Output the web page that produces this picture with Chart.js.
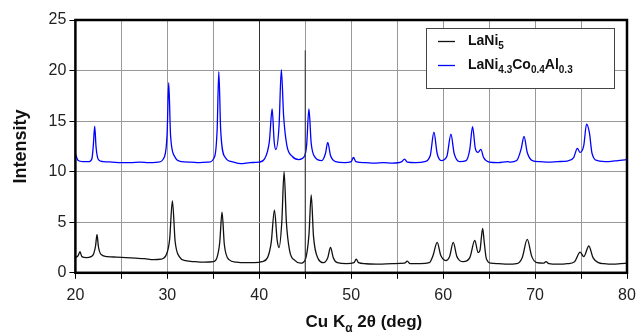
<!DOCTYPE html>
<html>
<head>
<meta charset="utf-8">
<script src="https://cdn.jsdelivr.net/npm/chart.js@4/dist/chart.umd.min.js"></script>
<style>
  html, body { margin: 0; padding: 0; background: #fff; }
  #wrap { width: 639px; height: 336px; }
</style>
</head>
<body>
<div id="wrap"><canvas id="Chart"></canvas></div>
<script>
// LaNi5 pattern (2theta, intensity)
const lani5X = [20.0,20.3,20.5,20.7,21.2,21.7,22.0,22.2,22.35,22.5,22.8,23.5,24.5,25.5,26.5,27.5,28.5,29.3,29.9,30.25,30.55,30.85,31.3,32.0,33.0,34.0,35.0,35.4,35.7,35.95,36.2,36.7,37.5,38.5,39.5,40.3,40.9,41.3,41.65,41.95,42.15,42.45,42.7,42.95,43.3,43.9,44.5,45.0,45.4,45.65,45.9,46.4,47.0,47.45,47.75,48.05,48.5,49.5,50.3,50.55,50.8,51.5,53.0,54.5,55.8,56.1,56.4,57.5,58.5,58.9,59.35,59.75,60.3,60.7,61.1,61.5,62.2,62.9,63.45,63.8,64.0,64.3,64.45,64.7,65.2,66.0,67.0,68.0,68.6,69.15,69.65,70.2,70.9,71.2,71.5,72.5,73.5,74.3,74.9,75.3,75.85,76.3,76.9,77.5,78.5,79.3,80.0];
const lani5Y = [1.5,1.7,2.1,1.6,1.5,1.6,1.9,2.7,3.8,2.6,1.8,1.6,1.55,1.5,1.45,1.4,1.3,1.35,1.8,3.3,7.1,3.1,1.6,1.2,1.1,1.05,1.1,1.5,3.0,6.0,2.8,1.3,1.05,1.0,1.0,1.1,1.5,3.0,6.2,3.2,2.5,5.0,10.0,5.0,2.2,1.2,0.95,1.3,3.7,7.7,3.6,1.4,1.0,1.5,2.5,1.5,1.0,0.9,1.0,1.35,1.0,0.9,0.85,0.9,0.95,1.15,0.9,0.9,1.0,1.7,3.0,1.7,1.2,1.6,3.0,1.6,1.1,1.5,3.2,2.0,2.2,4.4,3.2,1.4,0.95,0.9,0.85,0.9,1.5,3.3,1.6,1.0,0.95,1.1,0.9,0.85,0.9,1.1,2.05,1.6,2.65,1.5,1.0,0.9,0.85,0.9,0.95];

// LaNi4.3Co0.4Al0.3 pattern (offset upwards in the figure)
const alloyX = [20.0,20.1,20.3,20.8,21.5,21.8,21.95,22.1,22.25,22.5,23.0,24.0,25.0,26.0,27.0,28.0,29.0,29.7,29.98,30.15,30.35,30.8,31.5,32.5,33.5,34.5,35.15,35.42,35.6,35.8,36.3,37.0,38.0,39.0,40.0,40.6,41.1,41.4,41.62,41.8,42.15,42.4,42.65,43.0,43.6,44.3,44.9,45.15,45.4,45.65,46.1,46.8,47.2,47.45,47.75,48.3,49.3,50.0,50.25,50.5,51.5,52.5,53.5,54.5,55.5,55.8,56.1,57.0,58.0,58.6,59.0,59.35,59.8,60.4,60.85,61.2,61.8,62.5,62.9,63.2,63.5,63.8,64.1,64.4,65.0,66.0,67.0,67.3,68.0,68.5,68.8,69.15,69.7,70.5,71.5,72.5,73.5,74.2,74.6,74.9,75.3,75.6,75.9,76.2,76.8,78.0,79.0,80.0];
const alloyY = [11.8,11.5,11.1,11.0,11.0,11.3,12.6,14.5,12.4,11.2,11.0,10.95,10.9,10.9,10.95,10.9,10.95,11.5,13.8,18.8,13.6,11.5,11.0,10.95,10.9,10.95,11.5,14.2,19.9,14.2,11.4,11.0,10.8,10.9,10.95,11.3,13.0,16.2,13.0,12.2,14.5,20.1,15.5,12.6,11.5,11.2,11.5,12.6,16.2,12.8,11.4,11.1,11.8,12.9,11.6,11.0,10.9,11.0,11.4,11.0,10.9,10.85,10.9,10.85,11.0,11.25,10.95,10.9,11.0,11.6,13.9,11.8,11.1,11.5,13.7,11.8,11.0,11.1,12.2,14.45,12.3,11.9,12.2,11.4,10.95,10.9,11.0,10.95,11.1,12.3,13.5,11.9,11.1,11.0,10.95,11.0,11.05,11.4,12.3,11.9,12.6,14.7,13.9,11.8,11.1,11.0,11.1,11.2];

// dark vertical marker line at 45 deg seen in the figure
const guideX = [45, 45];
const guideY = [0, 22];

// axis ticks
const xTicks = [20, 30, 40, 50, 60, 70, 80];
const yTicks = [0, 5, 10, 15, 20, 25];

// labels with subscripts: [text, isSubscript]
const lani5Label = [['LaNi', 0], ['5', 1]];
const alloyLabel = [['LaNi', 0], ['4.3', 1], ['Co', 0], ['0.4', 1], ['Al', 0], ['0.3', 1]];
const xTitle = [['Cu K', 0], ['\u03B1', 1], [' 2\u03B8 (deg)', 0]];
const yTitle = 'Intensity';

const FONT = '"Liberation Sans", Arial, sans-serif';

function toPoints(xs, ys) {
  return xs.map(function (x, i) { return { x: x, y: ys[i] }; });
}

function richWidth(ctx, parts, size) {
  let w = 0;
  parts.forEach(function (p) {
    ctx.font = 'bold ' + (p[1] ? Math.round(size * 0.68) : size) + 'px ' + FONT;
    w += ctx.measureText(p[0]).width;
  });
  return w;
}

function drawRich(ctx, parts, x, y, size) {
  parts.forEach(function (p) {
    ctx.font = 'bold ' + (p[1] ? Math.round(size * 0.68) : size) + 'px ' + FONT;
    ctx.fillText(p[0], x, p[1] ? y + size * 0.32 : y);
    x += ctx.measureText(p[0]).width;
  });
}

const decor = {
  id: 'decor',
  afterDatasetsDraw(chart) {
    const ctx = chart.ctx;
    const a = chart.chartArea;
    ctx.save();
    // plot frame
    ctx.lineWidth = 2.5;
    ctx.strokeStyle = '#000';
    ctx.strokeRect(a.left, a.top, a.right - a.left, a.bottom - a.top);

    // legend box
    const bw = 188, bh = 60;
    const bx = a.right - 13 - bw, by = a.top + 8;
    ctx.fillStyle = '#fff';
    ctx.fillRect(bx, by, bw, bh);
    ctx.lineWidth = 1;
    ctx.strokeStyle = '#444';
    ctx.strokeRect(bx + 0.5, by + 0.5, bw, bh);
    const rows = [[lani5Label, '#111'], [alloyLabel, '#0000ff']];
    rows.forEach(function (r, i) {
      const ly = by + 13.5 + i * 24;
      ctx.strokeStyle = r[1];
      ctx.lineWidth = 1.3;
      ctx.beginPath();
      ctx.moveTo(bx + 12, ly);
      ctx.lineTo(bx + 29, ly);
      ctx.stroke();
      ctx.fillStyle = '#111';
      ctx.textBaseline = 'middle';
      ctx.textAlign = 'left';
      drawRich(ctx, r[0], bx + 42, ly, 14);
    });

    // x axis title with subscript
    ctx.fillStyle = '#111';
    ctx.textBaseline = 'middle';
    const tw = richWidth(ctx, xTitle, 17);
    const cx = a.left + (a.right - a.left) * 0.523;
    drawRich(ctx, xTitle, cx - tw / 2, a.bottom + 50, 17);
    ctx.restore();
  }
};

let ctx = document.getElementById('Chart').getContext('2d');
let myChart = new Chart(ctx, {
  type: 'line',
  data: {
    datasets: [{
      label: 'guide',
      data: toPoints(guideX, guideY),
      borderColor: '#333',
      borderWidth: 1,
      pointRadius: 0
    }, {
      label: 'LaNi5',
      data: toPoints(lani5X, lani5Y),
      borderColor: '#111',
      borderWidth: 1.3,
      pointRadius: 0,
      cubicInterpolationMode: 'monotone'
    }, {
      label: 'LaNi4.3Co0.4Al0.3',
      data: toPoints(alloyX, alloyY),
      borderColor: '#0000ff',
      borderWidth: 1.3,
      pointRadius: 0,
      cubicInterpolationMode: 'monotone'
    }]
  },
  options: {
    responsive: true,
    maintainAspectRatio: false,
    animation: false,
    layout: { padding: { left: 10, top: 20, right: 0, bottom: 24 } },
    plugins: {
      legend: { display: false },
      tooltip: { enabled: false }
    },
    scales: {
      x: {
        type: 'linear',
        min: 20, max: 80,
        border: { display: false },
        grid: {
          color: function (c) { return c.tick && c.tick.value === 40 ? '#333' : '#999'; },
          lineWidth: 1,
          tickLength: 6,
          tickColor: '#000'
        },
        afterBuildTicks: function (scale) {
          scale.ticks = [20, 25, 30, 35, 40, 45, 50, 55, 60, 65, 70, 75, 80].map(function (v) { return { value: v }; });
        },
        afterFit: function (scale) {
          scale.paddingRight = 12;
        },
        ticks: {
          autoSkip: false,
          maxRotation: 0,
          padding: 7,
          color: '#222',
          font: { size: 16, family: FONT },
          callback: function (v) { return xTicks.indexOf(v) >= 0 ? String(v) : ''; }
        }
      },
      y: {
        min: 0, max: 25,
        border: { display: false },
        grid: { color: '#999', lineWidth: 1, tickLength: 6, tickColor: '#000' },
        afterBuildTicks: function (scale) {
          scale.ticks = yTicks.map(function (v) { return { value: v }; });
        },
        ticks: {
          padding: 3,
          color: '#222',
          font: { size: 16, family: FONT }
        },
        title: {
          display: true,
          text: yTitle,
          color: '#111',
          font: { size: 18, weight: 'bold', family: FONT },
          padding: { top: 0, bottom: 14 }
        }
      }
    }
  },
  plugins: [decor]
});
</script>
</body>
</html>
